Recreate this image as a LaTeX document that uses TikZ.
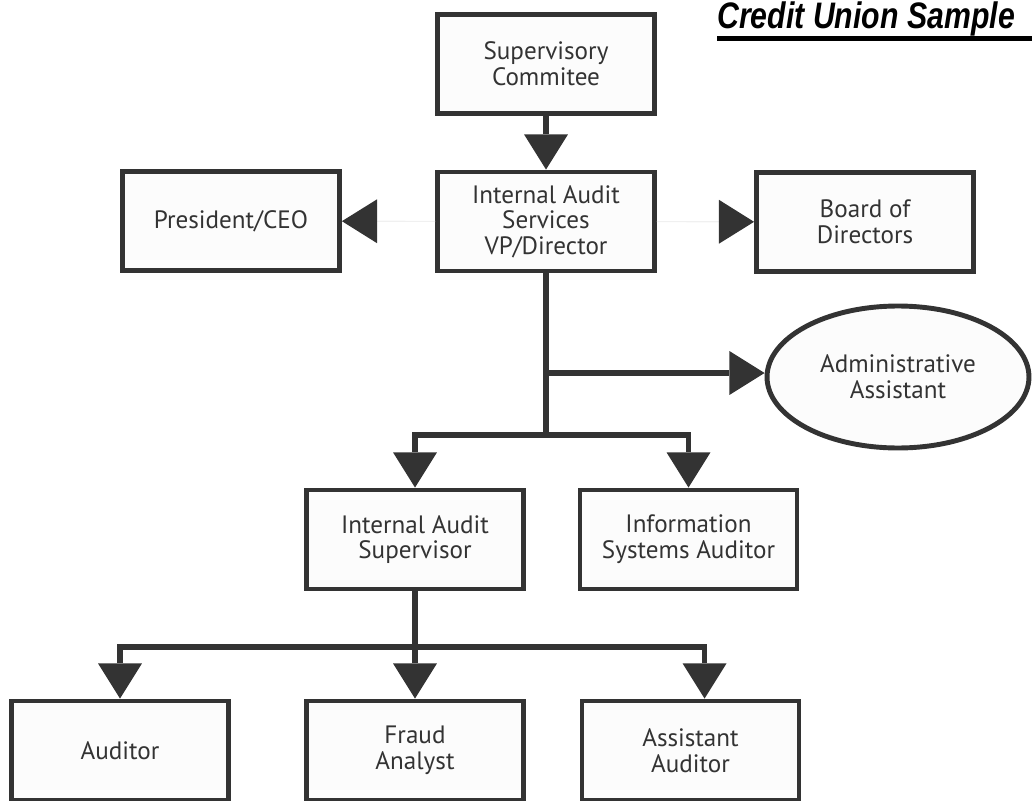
\documentclass[tikz,border=0pt]{standalone}
\usepackage{fontspec}
\setmainfont{PT Sans}
\newfontfamily\titlefont[FakeStretch=0.82]{Liberation Sans}
\usetikzlibrary{arrows.meta,shapes.geometric}
\definecolor{inkgray}{HTML}{333333}

\begin{document}
\begin{tikzpicture}[x=0.02cm, y=-0.02cm,
  box/.style={draw=inkgray, line width=2.8pt, fill=black!1, text=inkgray,
    minimum width=4.34cm, minimum height=1.98cm, align=center,
    font=\fontsize{14.3}{14.6}\selectfont, inner sep=2pt},
  oval/.style={box, ellipse, minimum width=5.24cm, minimum height=2.84cm},
  link/.style={draw=inkgray, line width=3pt},
  tip/.style={link, -{Triangle[width=25pt,length=20pt,line width=0pt]}},
  faint/.style={draw=black!6, line width=0.6pt,
    -{Triangle[width=25pt,length=20pt,line width=0pt,color=inkgray]}}]
\useasboundingbox (0,0) rectangle (1032,801);

\node[anchor=base west, inner sep=0pt, font=\titlefont\bfseries\itshape\fontsize{21}{24}\selectfont] (title) at (717,29) {Credit Union Sample};
\draw[line width=2.3pt] ([yshift=-5.4pt]title.base west) -- ++(320,0);

\node[box] (sup) at (546,64) {Supervisory\\Commitee};
\node[box] (ias) at (546,221.5) {Internal Audit\\Services\\VP/Director};
\node[box] (pres) at (231,221) {President/CEO};
\node[box] (board) at (865,222) {Board of\\Directors};
\node[oval] (admin) at (898,377) {Administrative\\Assistant};

\node[box] (iasup) at (415,539.5) {Internal Audit\\Supervisor};
\node[box] (isa) at (688.5,539.5) {Information\\Systems Auditor};

\node[box] (aud) at (120,750.5) {Auditor};
\node[box] (fraud) at (415,750.5) {Fraud\\Analyst};
\node[box] (asst) at (690.5,750.5) {Assistant\\Auditor};

\coordinate (aside) at (546,373);
\coordinate (split1) at (546,435);
\coordinate (split2) at (415,647);

\draw[tip] (sup) -- (ias);
\draw[faint] (ias) -- (pres);
\draw[faint] (ias) -- (board);
\draw[link] (ias) -- (split1);
\draw[tip] (aside) -- (aside -| admin.west);
\draw[tip] (split1) -| (iasup.north);
\draw[tip] (split1) -| (isa.north);

\draw[link] (iasup) -- (split2);
\draw[tip] (split2) -| (aud.north);
\draw[tip] (split2) -- (fraud);
\draw[tip] (split2) -| ([xshift=8pt]asst.north);
\end{tikzpicture}
\end{document}
